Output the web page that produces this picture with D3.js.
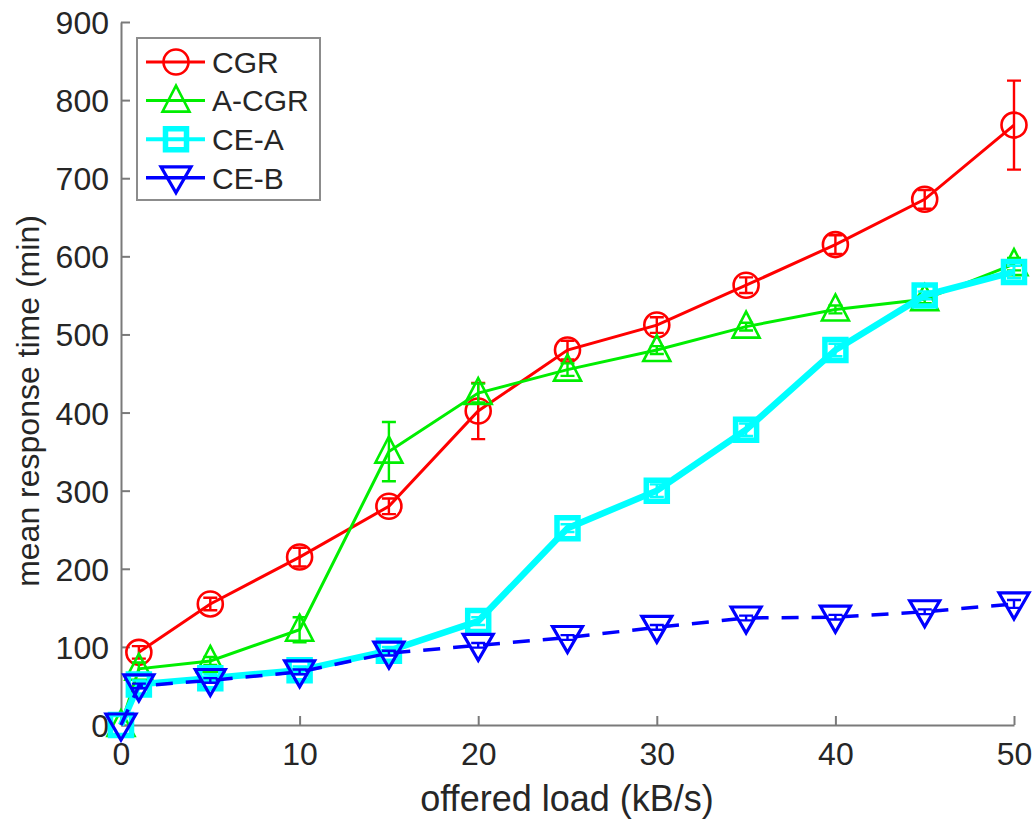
<!DOCTYPE html>
<html><head><meta charset="utf-8">
<script src="https://cdn.jsdelivr.net/npm/d3@7"></script>
<style>body{margin:0;background:#fff}svg{display:block}text{font-family:"Liberation Sans",Arial,sans-serif}</style>
</head><body><svg id="c" width="1035" height="820"></svg>
<script>
const xLoad = [0, 1, 5, 10, 15, 20, 25, 30, 35, 40, 45, 50];
const cgrX = [1, 5, 10, 15, 20, 25, 30, 35, 40, 45, 50];
const cgrY = [93, 155, 215, 280, 402, 480, 512, 563, 615, 673, 768];
const cgrE = [8, 8, 12, 10, 36, 12, 10, 10, 12, 12, 57];
const acgrY = [0, 72, 82, 122, 350, 425, 455, 480, 510, 532, 545, 590];
const acgrE = [0, 8, 5, 16, 38, 12, 8, 5, 5, 5, 5, 8];
const ceaY = [0, 52, 60, 70, 95, 133, 252, 300, 378, 480, 550, 580];
const ceaE = [0, 5, 5, 5, 5, 5, 5, 8, 8, 8, 5, 8];
const cebY = [0, 50, 57, 68, 92, 102, 112, 125, 137, 138, 145, 155];
const cebE = [0, 3, 3, 3, 3, 3, 3, 3, 3, 3, 3, 5];
const xTicks = [0, 10, 20, 30, 40, 50];
const yTicks = [0, 100, 200, 300, 400, 500, 600, 700, 800, 900];
const seriesNames = ["CGR", "A-CGR", "CE-A", "CE-B"];

const svg = d3.select("#c");
const x = d3.scaleLinear().domain([0, 50]).range([121, 1014]);
const y = d3.scaleLinear().domain([0, 900]).range([725, 22]);
const axisCol = "#7a7a7a", txtCol = "#262626", fs = 32;

const series = [
  {name: seriesNames[0], xs: cgrX, ys: cgrY, es: cgrE, color: "#ff0000", lw: 3, dash: null, marker: "circle", mlw: 2.6},
  {name: seriesNames[1], xs: xLoad, ys: acgrY, es: acgrE, color: "#00ee00", lw: 3, dash: null, marker: "tri", mlw: 2.6},
  {name: seriesNames[2], xs: xLoad, ys: ceaY, es: ceaE, color: "#00ffff", lw: 6.5, dash: null, marker: "square", mlw: 5.5},
  {name: seriesNames[3], xs: xLoad, ys: cebY, es: cebE, color: "#0000ff", lw: 3.5, dash: "17,13", marker: "itri", mlw: 3.2}
];

function markerPath(type) {
  if (type === "circle") return d3.symbol(d3.symbolCircle, Math.PI * 12.5 * 12.5)();
  if (type === "square") return "M-10.5,-10.5H10.5V10.5H-10.5Z";
  if (type === "tri") return "M0,-15L13.5,11L-13.5,11Z";
  if (type === "itri") return "M0,15L15,-11L-15,-11Z";
}

// axes
const gx = svg.append("g").attr("transform", "translate(0,725)")
  .call(d3.axisBottom(x).tickValues(xTicks).tickSizeInner(-9).tickSizeOuter(0).tickPadding(17));
const gy = svg.append("g").attr("transform", "translate(121,0)")
  .call(d3.axisLeft(y).tickValues(yTicks).tickSizeInner(-9).tickSizeOuter(0).tickPadding(12));
[gx, gy].forEach(g => {
  g.select(".domain").attr("stroke", axisCol).attr("stroke-width", 2);
  g.selectAll(".tick line").attr("stroke", axisCol).attr("stroke-width", 2);
  g.selectAll(".tick text").attr("fill", txtCol).style("font-size", fs + "px")
    .style("font-family", '"Liberation Sans",Arial,sans-serif');
});
gy.selectAll(".tick text").attr("dy", "0.36em");
gx.selectAll(".tick text").attr("dy", "0.72em");

svg.append("text").attr("x", 567).attr("y", 811).attr("text-anchor", "middle")
  .attr("fill", txtCol).style("font-size", "36px").text("offered load (kB/s)");
svg.append("text").attr("transform", "translate(39,401) rotate(-90)").attr("text-anchor", "middle")
  .attr("fill", txtCol).style("font-size", "32px").text("mean response time (min)");

// series
const line = d3.line().x(d => x(d[0])).y(d => y(d[1]));
series.forEach(s => {
  const pts = s.xs.map((v, i) => [v, s.ys[i], s.es[i]]);
  const g = svg.append("g");
  g.append("path").datum(pts).attr("d", line).attr("fill", "none")
    .attr("stroke", s.color).attr("stroke-width", s.lw).attr("stroke-dasharray", s.dash);
  pts.filter(p => p[2] > 0).forEach(p => {
    const cx = x(p[0]), y1 = y(p[1] - p[2]), y2 = y(p[1] + p[2]);
    g.append("path").attr("d", `M${cx},${y1}V${y2}M${cx-7},${y1}H${cx+7}M${cx-7},${y2}H${cx+7}`)
      .attr("stroke", s.color).attr("stroke-width", 2.4).attr("fill", "none");
  });
  g.selectAll(".m").data(pts).join("path").attr("class", "m")
    .attr("transform", p => `translate(${x(p[0])},${y(p[1])})`)
    .attr("d", markerPath(s.marker)).attr("fill", "none")
    .attr("stroke", s.color).attr("stroke-width", s.mlw);
});

// legend
const lg = svg.append("g");
lg.append("rect").attr("x", 137).attr("y", 38).attr("width", 183).attr("height", 162)
  .attr("fill", "#fff").attr("stroke", "#8c8c8c").attr("stroke-width", 2);
series.forEach((s, i) => {
  const yy = 62 + i * 38.6;
  lg.append("line").attr("x1", 146).attr("x2", 205).attr("y1", yy).attr("y2", yy)
    .attr("stroke", s.color).attr("stroke-width", Math.min(s.lw, 4));
  lg.append("path").attr("transform", `translate(176,${yy})`).attr("d", markerPath(s.marker))
    .attr("fill", "none").attr("stroke", s.color).attr("stroke-width", s.mlw);
  lg.append("text").attr("x", 212).attr("y", yy).attr("dy", "0.36em").attr("fill", txtCol)
    .style("font-size", "30px").text(s.name);
});
</script></body></html>
